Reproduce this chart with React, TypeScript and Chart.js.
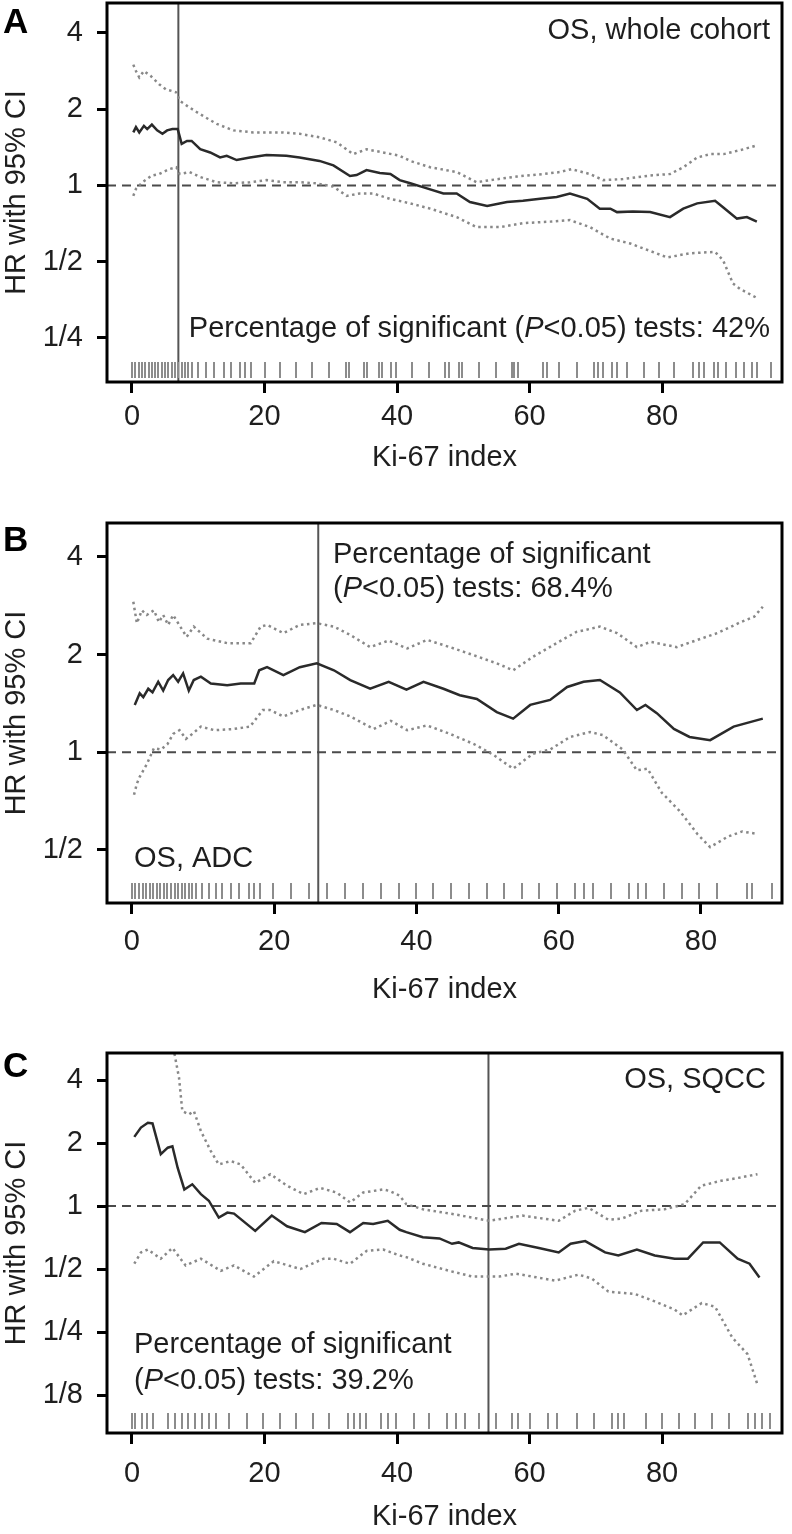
import React, { useEffect, useRef } from "react";
import { Chart, registerables } from "chart.js";

Chart.register(...registerables);

const FONT = '"Liberation Sans", Arial, Helvetica, sans-serif';
const TEXT = "#1e1e1e";

// ---------- shared axis ticks ----------
const xTicks = [0, 20, 40, 60, 80];
const xTitle = "Ki-67 index";
const yTitle = "HR with 95% CI";

// ---------- Panel A: OS, whole cohort ----------
const aYTicks = [4, 2, 1, 0.5, 0.25];
const aYLabels = ["4", "2", "1", "1/2", "1/4"];
const aHrX = [0.2, 0.6, 1.1, 1.8, 2.3, 3.0, 3.8, 4.6, 5.3, 6.1, 6.9, 7.5, 8.3, 9.0, 10.3, 11.8, 13.3, 14.3, 15.8, 17.8, 20.3, 23.3, 25.3, 28.3, 30.4, 32.9, 33.9, 35.4, 37.4, 39.0, 40.4, 42.0, 43.9, 47.0, 49.0, 51.0, 53.6, 56.6, 59.0, 61.6, 64.1, 66.1, 68.7, 70.6, 72.2, 73.2, 75.6, 78.2, 81.2, 83.2, 85.3, 88.0, 89.2, 91.3, 92.8, 94.3];
const aHrY = [1.62, 1.7, 1.62, 1.72, 1.67, 1.74, 1.65, 1.6, 1.65, 1.67, 1.67, 1.46, 1.5, 1.5, 1.39, 1.35, 1.29, 1.31, 1.26, 1.29, 1.32, 1.31, 1.29, 1.25, 1.2, 1.09, 1.1, 1.15, 1.12, 1.11, 1.05, 1.02, 0.985, 0.93, 0.93, 0.86, 0.83, 0.86, 0.87, 0.886, 0.9, 0.93, 0.886, 0.81, 0.81, 0.785, 0.79, 0.785, 0.75, 0.81, 0.85, 0.87, 0.82, 0.74, 0.75, 0.72];
const aUpX = [0.2, 0.6, 1.1, 1.8, 2.8, 4.1, 5.1, 6.7, 7.2, 8.7, 10.3, 12.8, 15.3, 18.3, 22.8, 25.3, 28.3, 30.9, 33.4, 35.4, 37.9, 40.4, 42.0, 45.0, 49.0, 52.0, 54.1, 58.1, 62.1, 64.6, 66.3, 69.1, 71.1, 74.1, 78.2, 81.2, 83.2, 85.3, 87.3, 89.3, 92.3, 94.3];
const aUpY = [3.0, 2.83, 2.67, 2.83, 2.71, 2.51, 2.4, 2.33, 2.16, 2.03, 1.91, 1.75, 1.65, 1.62, 1.62, 1.6, 1.55, 1.48, 1.33, 1.39, 1.35, 1.31, 1.25, 1.18, 1.13, 1.03, 1.05, 1.085, 1.11, 1.13, 1.16, 1.11, 1.05, 1.06, 1.095, 1.11, 1.18, 1.29, 1.33, 1.33, 1.39, 1.44];
const aLoX = [0.2, 0.6, 1.6, 3.0, 4.1, 5.6, 6.7, 7.2, 8.7, 10.3, 12.8, 15.3, 17.8, 20.3, 22.8, 25.3, 27.8, 30.4, 32.4, 34.4, 36.4, 38.9, 42.0, 45.0, 49.0, 52.0, 55.6, 59.0, 63.1, 66.1, 69.1, 72.2, 75.2, 77.5, 80.8, 84.2, 88.0, 89.2, 90.7, 91.8, 94.3];
const aLoY = [0.91, 0.97, 1.03, 1.095, 1.11, 1.16, 1.18, 1.11, 1.13, 1.08, 1.03, 1.02, 1.03, 1.05, 1.03, 1.03, 1.02, 0.99, 0.91, 0.93, 0.93, 0.886, 0.85, 0.81, 0.75, 0.685, 0.685, 0.71, 0.72, 0.73, 0.685, 0.617, 0.59, 0.56, 0.52, 0.54, 0.547, 0.507, 0.41, 0.39, 0.36];
const aRug = [0, 0.5, 1, 1.5, 2, 2.5, 3, 3.5, 4, 4.5, 5, 5.5, 6, 6.5, 7, 7.5, 8, 8.5, 9, 10.0, 11.2, 12.4, 13.9, 14.9, 16.3, 17.1, 17.9, 20.0, 22.4, 24.7, 27.1, 29.8, 32.3, 32.7, 35.0, 35.4, 37.3, 37.8, 39.1, 39.9, 42.3, 44.9, 47.3, 47.8, 49.3, 49.8, 52.3, 54.9, 57.3, 57.7, 58.3, 62.1, 62.6, 64.5, 67.1, 69.8, 70.4, 71.1, 72.4, 73.2, 74.7, 77.2, 79.6, 81.8, 84.7, 85.5, 86.3, 87.8, 88.4, 89.7, 91.1, 92.4, 93.5, 94.4, 96.4];
const aCut = 7.0;
const aPct = "42%";

// ---------- Panel B: OS, ADC ----------
const bYTicks = [4, 2, 1, 0.5];
const bYLabels = ["4", "2", "1", "1/2"];
const bHrX = [0.4, 1.1, 1.6, 2.3, 2.9, 3.7, 4.4, 5.1, 5.8, 6.5, 7.2, 8.0, 8.7, 9.7, 11.1, 13.4, 15.3, 17.2, 17.9, 19.0, 21.3, 23.6, 26.0, 28.4, 30.7, 33.5, 36.1, 38.6, 41.0, 43.8, 46.1, 48.5, 51.3, 53.6, 56.0, 58.8, 61.2, 63.5, 65.8, 68.6, 71.0, 72.2, 73.8, 76.2, 78.4, 81.3, 84.6, 88.7];
const bHrY = [1.4, 1.52, 1.48, 1.57, 1.53, 1.65, 1.55, 1.67, 1.73, 1.65, 1.75, 1.55, 1.67, 1.71, 1.63, 1.61, 1.63, 1.63, 1.79, 1.83, 1.73, 1.83, 1.88, 1.79, 1.67, 1.57, 1.65, 1.56, 1.65, 1.57, 1.5, 1.46, 1.33, 1.27, 1.4, 1.45, 1.59, 1.65, 1.67, 1.53, 1.35, 1.4, 1.32, 1.18, 1.115, 1.09, 1.2, 1.27];
const bUpX = [0.2, 0.7, 1.4, 2.1, 3.1, 3.8, 4.4, 5.1, 5.8, 6.8, 7.7, 8.7, 10.6, 13.4, 16.7, 18.1, 19.0, 21.3, 23.6, 26.0, 28.4, 30.7, 33.5, 36.1, 38.7, 41.5, 44.7, 48.1, 51.3, 53.6, 56.4, 59.7, 62.5, 65.8, 68.2, 71.0, 72.9, 76.6, 79.5, 82.3, 85.6, 87.5, 88.7];
const bUpY = [2.91, 2.5, 2.74, 2.65, 2.74, 2.52, 2.65, 2.47, 2.65, 2.44, 2.27, 2.44, 2.24, 2.17, 2.17, 2.44, 2.47, 2.33, 2.47, 2.5, 2.44, 2.3, 2.11, 2.21, 2.09, 2.22, 2.11, 1.99, 1.88, 1.79, 1.97, 2.17, 2.35, 2.44, 2.33, 2.11, 2.19, 2.11, 2.22, 2.33, 2.52, 2.62, 2.81];
const bLoX = [0.3, 0.7, 1.1, 2.1, 3.1, 4.1, 5.0, 5.8, 6.7, 7.6, 8.5, 9.7, 11.6, 14.3, 16.6, 18.4, 19.4, 21.3, 23.6, 26.0, 28.4, 30.7, 34.0, 36.4, 38.7, 41.5, 44.7, 48.1, 50.9, 53.6, 56.4, 58.8, 61.6, 64.4, 66.2, 69.0, 71.0, 72.5, 74.5, 77.0, 79.5, 81.3, 83.8, 85.8, 88.0];
const bLoY = [0.74, 0.8, 0.84, 0.92, 1.03, 1.02, 1.06, 1.14, 1.17, 1.1, 1.14, 1.2, 1.17, 1.18, 1.2, 1.35, 1.35, 1.29, 1.35, 1.4, 1.35, 1.29, 1.18, 1.25, 1.17, 1.21, 1.14, 1.06, 0.98, 0.89, 0.99, 1.02, 1.115, 1.155, 1.13, 1.02, 0.88, 0.89, 0.75, 0.66, 0.56, 0.51, 0.55, 0.57, 0.56];
const bRug = [0, 0.5, 1, 1.5, 2, 2.5, 3, 3.5, 4, 4.5, 5, 5.5, 6, 6.5, 7, 7.5, 8, 8.5, 9, 9.9, 10.9, 11.8, 12.6, 14.0, 15.0, 16.4, 17.2, 18.0, 19.8, 22.4, 24.9, 27.5, 30.0, 32.5, 35.0, 37.5, 39.9, 42.4, 44.9, 47.4, 49.9, 52.3, 54.8, 57.3, 59.8, 62.3, 63.5, 64.8, 67.4, 69.9, 71.1, 72.3, 74.8, 77.3, 79.8, 82.3, 86.5, 87.2, 90.0];
const bCut = 26.2;
const bPct = "68.4%";

// ---------- Panel C: OS, SQCC ----------
const cYTicks = [4, 2, 1, 0.5, 0.25, 0.125];
const cYLabels = ["4", "2", "1", "1/2", "1/4", "1/8"];
const cHrX = [0.35, 1.35, 2.4, 3.1, 4.35, 5.4, 6.1, 6.9, 7.9, 9.1, 10.4, 11.6, 13.1, 14.4, 15.4, 18.6, 21.1, 23.4, 26.1, 28.6, 30.9, 32.9, 34.9, 36.4, 38.6, 40.4, 41.4, 43.9, 46.4, 48.3, 49.3, 51.4, 53.9, 56.4, 58.4, 61.4, 64.4, 66.2, 68.4, 71.4, 73.4, 76.2, 78.9, 81.9, 83.9, 86.2, 88.7, 91.4, 93.2, 94.7];
const cHrY = [2.14, 2.37, 2.5, 2.48, 1.77, 1.9, 1.93, 1.52, 1.2, 1.27, 1.14, 1.06, 0.88, 0.93, 0.92, 0.76, 0.9, 0.8, 0.75, 0.83, 0.82, 0.75, 0.83, 0.82, 0.85, 0.77, 0.75, 0.71, 0.7, 0.66, 0.67, 0.63, 0.62, 0.625, 0.66, 0.63, 0.6, 0.66, 0.68, 0.6, 0.58, 0.62, 0.58, 0.56, 0.56, 0.67, 0.67, 0.56, 0.53, 0.455];
const cUpX = [5.9, 7.1, 7.6, 8.6, 9.35, 10.4, 11.9, 13.1, 14.9, 16.4, 18.6, 20.9, 23.4, 25.9, 28.4, 30.9, 32.9, 34.9, 37.9, 38.9, 40.4, 41.4, 43.9, 48.9, 53.9, 58.9, 64.4, 66.9, 68.9, 71.9, 73.9, 76.9, 80.4, 83.4, 85.9, 88.9, 91.9, 94.4];
const cUpY = [6.5, 4.1, 2.84, 2.74, 2.84, 2.28, 1.83, 1.58, 1.64, 1.58, 1.29, 1.42, 1.25, 1.14, 1.22, 1.16, 1.04, 1.16, 1.2, 1.18, 1.12, 1.02, 0.965, 0.91, 0.85, 0.9, 0.85, 0.95, 0.98, 0.86, 0.87, 0.95, 0.965, 1.02, 1.25, 1.32, 1.37, 1.42];
const cLoX = [0.35, 1.35, 2.4, 4.35, 6.1, 8.1, 10.4, 13.4, 15.4, 18.4, 21.4, 25.4, 28.9, 30.4, 32.9, 35.4, 37.9, 40.4, 41.4, 43.9, 47.9, 51.4, 55.4, 57.9, 63.9, 67.4, 69.4, 71.9, 75.9, 78.9, 81.9, 83.1, 86.0, 88.0, 90.6, 92.9, 94.4];
const cLoY = [0.53, 0.6, 0.62, 0.56, 0.63, 0.52, 0.56, 0.49, 0.52, 0.46, 0.545, 0.5, 0.56, 0.56, 0.53, 0.61, 0.62, 0.58, 0.57, 0.53, 0.49, 0.46, 0.46, 0.475, 0.44, 0.47, 0.45, 0.39, 0.38, 0.35, 0.32, 0.3, 0.344, 0.33, 0.235, 0.196, 0.14];
const cRug = [0, 0.5, 1.5, 2.3, 3.2, 5.5, 6.5, 7.5, 8.5, 9.5, 10.5, 11.6, 12.7, 14.6, 17.3, 19.8, 22.3, 24.8, 27.3, 29.8, 32.6, 33.5, 34.4, 35.3, 37.6, 38.6, 39.9, 42.6, 44.9, 47.6, 48.9, 50.3, 52.4, 55.0, 57.3, 58.2, 60.0, 62.8, 64.2, 67.1, 69.8, 72.4, 73.4, 74.3, 77.5, 80.0, 82.5, 84.9, 87.6, 90.1, 92.9, 94.0, 95.1, 96.3];
const cCut = 53.8;
const cPct = "39.2%";

// ---------- types ----------
type Run = { t: string; i?: boolean };
type TextBlock = { lines: Run[][]; x: number; y: number; align: "left" | "right"; gap: number };

interface Panel {
  letter: string;
  letterY: number;
  top: number;
  height: number;
  areaTop: number;
  areaBottom: number;
  xMin: number;
  xMax: number;
  yMin: number;
  yMax: number;
  yTicks: number[];
  yLabels: string[];
  hrX: number[];
  hrY: number[];
  upX: number[];
  upY: number[];
  loX: number[];
  loY: number[];
  rug: number[];
  cut: number;
  tickPad: number;
  titlePad: number;
  texts: TextBlock[];
}

const pctRuns = (pct: string): Run[] => [
  { t: "(" },
  { t: "P", i: true },
  { t: "<0.05) tests: " + pct },
];

const panels: Panel[] = [
  {
    letter: "A",
    letterY: 33,
    top: 0,
    height: 490,
    areaTop: 3,
    areaBottom: 382,
    xMin: -3.77,
    xMax: 98.1,
    yMin: Math.pow(2, -2.577),
    yMax: Math.pow(2, 2.393),
    yTicks: aYTicks,
    yLabels: aYLabels,
    hrX: aHrX, hrY: aHrY, upX: aUpX, upY: aUpY, loX: aLoX, loY: aLoY,
    rug: aRug,
    cut: aCut,
    tickPad: 7,
    titlePad: 15,
    texts: [
      { lines: [[{ t: "OS, whole cohort" }]], x: 770, y: 39, align: "right", gap: 0 },
      { lines: [[{ t: "Percentage of significant " }, ...pctRuns(aPct)]], x: 770, y: 337, align: "right", gap: 0 },
    ],
  },
  {
    letter: "B",
    letterY: 61,
    top: 490,
    height: 520,
    areaTop: 33,
    areaBottom: 413,
    xMin: -3.5,
    xMax: 91.4,
    yMin: Math.pow(2, -1.543),
    yMax: Math.pow(2, 2.348),
    yTicks: bYTicks,
    yLabels: bYLabels,
    hrX: bHrX, hrY: bHrY, upX: bUpX, upY: bUpY, loX: bLoX, loY: bLoY,
    rug: bRug,
    cut: bCut,
    tickPad: 10.5,
    titlePad: 2.5,
    texts: [
      { lines: [[{ t: "Percentage of significant" }], pctRuns(bPct)], x: 333, y: 73, align: "left", gap: 34 },
      { lines: [[{ t: "OS, ADC" }]], x: 134, y: 377, align: "left", gap: 0 },
    ],
  },
  {
    letter: "C",
    letterY: 67,
    top: 1010,
    height: 524,
    areaTop: 43,
    areaBottom: 423,
    xMin: -3.77,
    xMax: 98.1,
    yMin: Math.pow(2, -3.603),
    yMax: Math.pow(2, 2.429),
    yTicks: cYTicks,
    yLabels: cYLabels,
    hrX: cHrX, hrY: cHrY, upX: cUpX, upY: cUpY, loX: cLoX, loY: cLoY,
    rug: cRug,
    cut: cCut,
    tickPad: 12.5,
    titlePad: 0,
    texts: [
      { lines: [[{ t: "OS, SQCC" }]], x: 766, y: 78, align: "right", gap: 0 },
      { lines: [[{ t: "Percentage of significant" }], pctRuns(cPct)], x: 134, y: 343, align: "left", gap: 36 },
    ],
  },
];

const FS = 29;

function drawRuns(ctx: CanvasRenderingContext2D, runs: Run[], x: number, y: number, align: "left" | "right") {
  const fontFor = (r: Run) => `${r.i ? "italic " : ""}${FS}px ${FONT}`;
  let total = 0;
  const widths = runs.map((r) => {
    ctx.font = fontFor(r);
    const w = ctx.measureText(r.t).width;
    total += w;
    return w;
  });
  let cx = align === "right" ? x - total : x;
  ctx.textAlign = "left";
  ctx.textBaseline = "alphabetic";
  runs.forEach((r, k) => {
    ctx.font = fontFor(r);
    ctx.fillText(r.t, cx, y);
    cx += widths[k];
  });
}

function overlay(p: Panel) {
  return {
    id: "overlay" + p.letter,
    afterDatasetsDraw(chart: any) {
      const { ctx, chartArea: a, scales } = chart;
      const xs = scales.x;
      ctx.save();
      // rug
      ctx.strokeStyle = "#8c8c8c";
      ctx.lineWidth = 2;
      ctx.beginPath();
      for (const v of p.rug) {
        const px = Math.round(xs.getPixelForValue(v));
        ctx.moveTo(px, a.bottom - 20);
        ctx.lineTo(px, a.bottom - 4);
      }
      ctx.stroke();
      // frame
      ctx.strokeStyle = "#000";
      ctx.lineWidth = 3;
      ctx.strokeRect(a.left, a.top, a.right - a.left, a.bottom - a.top);
      // texts
      ctx.fillStyle = TEXT;
      for (const tb of p.texts) {
        tb.lines.forEach((ln, k) => drawRuns(ctx, ln, tb.x, tb.y + k * tb.gap, tb.align));
      }
      // panel letter
      ctx.font = `bold 35px ${FONT}`;
      ctx.fillStyle = "#000";
      ctx.textAlign = "left";
      ctx.textBaseline = "alphabetic";
      ctx.fillText(p.letter, 3, p.letterY);
      ctx.restore();
    },
  };
}

function buildConfig(p: Panel): any {
  const pts = (xs: number[], ys: number[]) => xs.map((x, i) => ({ x, y: ys[i] }));
  const font = { family: FONT, size: FS };
  return {
    type: "line",
    data: {
      datasets: [
        { data: pts(p.hrX, p.hrY), borderColor: "#2a2a2a", borderWidth: 2.5, pointRadius: 0, tension: 0, fill: false },
        { data: pts(p.upX, p.upY), borderColor: "#888888", borderWidth: 2.5, borderDash: [2.5, 3.5], pointRadius: 0, tension: 0, fill: false },
        { data: pts(p.loX, p.loY), borderColor: "#888888", borderWidth: 2.5, borderDash: [2.5, 3.5], pointRadius: 0, tension: 0, fill: false },
        { data: [{ x: p.xMin, y: 1 }, { x: p.xMax, y: 1 }], borderColor: "#4a4a4a", borderWidth: 2, borderDash: [9, 6], pointRadius: 0, fill: false },
        { data: [{ x: p.cut, y: p.yMin }, { x: p.cut, y: p.yMax }], borderColor: "#555555", borderWidth: 2, pointRadius: 0, fill: false },
      ],
    },
    options: {
      responsive: false,
      maintainAspectRatio: false,
      animation: false,
      events: [],
      layout: { padding: { top: p.areaTop, right: 10, bottom: 0, left: 0 }, autoPadding: false },
      plugins: { legend: { display: false }, tooltip: { enabled: false } },
      scales: {
        x: {
          type: "linear",
          position: "bottom",
          min: p.xMin,
          max: p.xMax,
          bounds: "data",
          afterBuildTicks: (s: any) => {
            s.ticks = xTicks.map((v) => ({ value: v }));
          },
          afterFit: (s: any) => {
            s.height = p.height - p.areaBottom;
            s.paddingLeft = 0;
            s.paddingRight = 0;
            s.paddingTop = 0;
            s.paddingBottom = 0;
          },
          grid: { drawOnChartArea: false, drawTicks: true, tickLength: 11, tickWidth: 3, tickColor: "#000" },
          border: { display: false },
          ticks: { font, color: TEXT, padding: p.tickPad, maxRotation: 0, autoSkip: false, callback: (v: any) => String(v) },
          title: { display: true, text: xTitle, font, color: TEXT, padding: { top: 0, bottom: p.titlePad } },
        },
        y: {
          type: "logarithmic",
          position: "left",
          min: p.yMin,
          max: p.yMax,
          bounds: "data",
          afterBuildTicks: (s: any) => {
            s.ticks = p.yTicks.map((v) => ({ value: v }));
          },
          afterFit: (s: any) => {
            s.width = 107;
            s.paddingLeft = 0;
            s.paddingRight = 0;
            s.paddingTop = 0;
            s.paddingBottom = 0;
          },
          grid: { drawOnChartArea: false, drawTicks: true, tickLength: 10, tickWidth: 3, tickColor: "#000" },
          border: { display: false },
          ticks: { font, color: TEXT, padding: 14, autoSkip: false, callback: (_v: any, i: number) => p.yLabels[i] },
          title: { display: true, text: yTitle, font, color: TEXT, padding: 0 },
        },
      },
    },
    plugins: [overlay(p)],
  };
}

function PanelChart({ p }: { p: Panel }) {
  const ref = useRef<HTMLCanvasElement>(null);
  useEffect(() => {
    if (!ref.current) return;
    const chart = new Chart(ref.current, buildConfig(p));
    return () => chart.destroy();
  }, [p]);
  return (
    <canvas
      ref={ref}
      width={792}
      height={p.height}
      style={{ position: "absolute", left: 0, top: p.top, width: 792, height: p.height, display: "block" }}
    />
  );
}

export default function App() {
  return (
    <div style={{ position: "absolute", left: 0, top: 0, width: 792, height: 1534, background: "#fff", overflow: "hidden" }}>
      {panels.map((p) => (
        <PanelChart key={p.letter} p={p} />
      ))}
    </div>
  );
}
